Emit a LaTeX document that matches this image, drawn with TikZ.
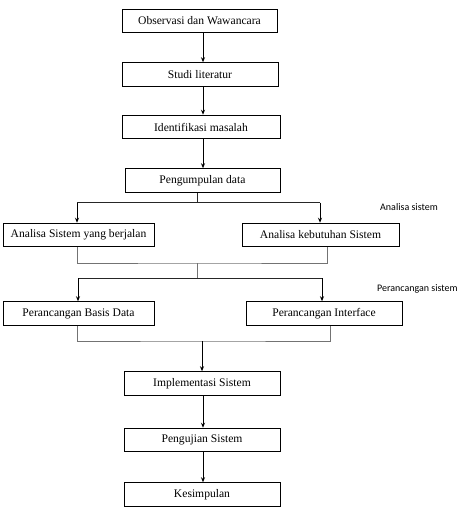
\documentclass[tikz,border=0pt]{standalone}
\usepackage{fontspec}
\setmainfont{Liberation Serif}
\newfontfamily\lblfont{Carlito}
\usetikzlibrary{arrows.meta}
\begin{document}
\begin{tikzpicture}[x=1pt,y=-1pt,
  box/.style={draw,line width=1pt,minimum height=23.5pt,inner sep=0pt,font=\fontsize{11.6}{13}\selectfont},
  arr/.style={-{Stealth[length=5pt,width=4pt]},line width=1pt},
  split/.style={line width=0.8pt,draw=black!85},
  merge/.style={line width=0.7pt,draw=black!55},
  lbl/.style={font=\lblfont\fontsize{10}{11}\selectfont,anchor=west,inner sep=0pt}]
\useasboundingbox (0,0) rectangle (461,508);
\node[box,minimum width=155pt] (b1) at (199.5,21) {Observasi dan Wawancara};
\node[box,minimum width=156pt] (b2) at (200,74.5) {Studi literatur};
\node[box,minimum width=158pt] (b3) at (201,127) {Identifikasi masalah};
\node[box,minimum width=155pt] (b4) at (202.5,180.5) {Pengumpulan data};
\node[box,minimum width=151pt] (b5) at (78.5,235) {Analisa Sistem yang berjalan};
\node[box,minimum width=157pt] (b6) at (320.5,235) {Analisa kebutuhan Sistem};
\node[box,minimum width=151pt] (b7) at (78.5,313.5) {Perancangan Basis Data};
\node[box,minimum width=156pt] (b8) at (324,313.5) {Perancangan Interface};
\node[box,minimum width=156pt] (b9) at (202,383.5) {Implementasi Sistem};
\node[box,minimum width=156pt] (b10) at (202,440) {Pengujian Sistem};
\node[box,minimum width=156pt] (b11) at (202,494.5) {Kesimpulan};
\node[lbl] (l1) at (380,207) {Analisa sistem};
\node[lbl] (l2) at (377,289) {Perancangan sistem};
\coordinate (s1) at (197,202.5);
\coordinate (m1) at (197,263);
\coordinate (s2) at (197,278);
\coordinate (m2) at (202,341);
\draw[arr] (b1.south -| 203,0) -- (b2.north -| 203,0);
\draw[arr] (b2.south -| 203,0) -- (b3.north -| 203,0);
\draw[arr] (b3.south -| 203,0) -- (b4.north -| 203,0);
\draw[split] (b4.south -| s1) -- (s1);
\draw[split] (77,202.5) -- (320,202.5);
\draw[arr] (77,202.5) -- (b5.north -| 77,0);
\draw[arr] (320,202.5) -- (b6.north -| 320,0);
\draw[merge] (b5.south -| 77,0) |- (m1) -| (b6.south -| 327,0);
\draw[merge] (m1) -- (s2);
\draw[split] (78,278) -- (322,278);
\draw[arr] (78,278) -- (b7.north -| 78,0);
\draw[arr] (322,278) -- (b8.north -| 322,0);
\draw[merge] (b7.south -| 77,0) |- (m2) -| (b8.south -| 330,0);
\draw[arr] (m2) -- (b9.north -| m2);
\draw[arr] (b9.south -| 203,0) -- (b10.north -| 203,0);
\draw[arr] (b10.south -| 203,0) -- (b11.north -| 203,0);
\end{tikzpicture}
\end{document}
